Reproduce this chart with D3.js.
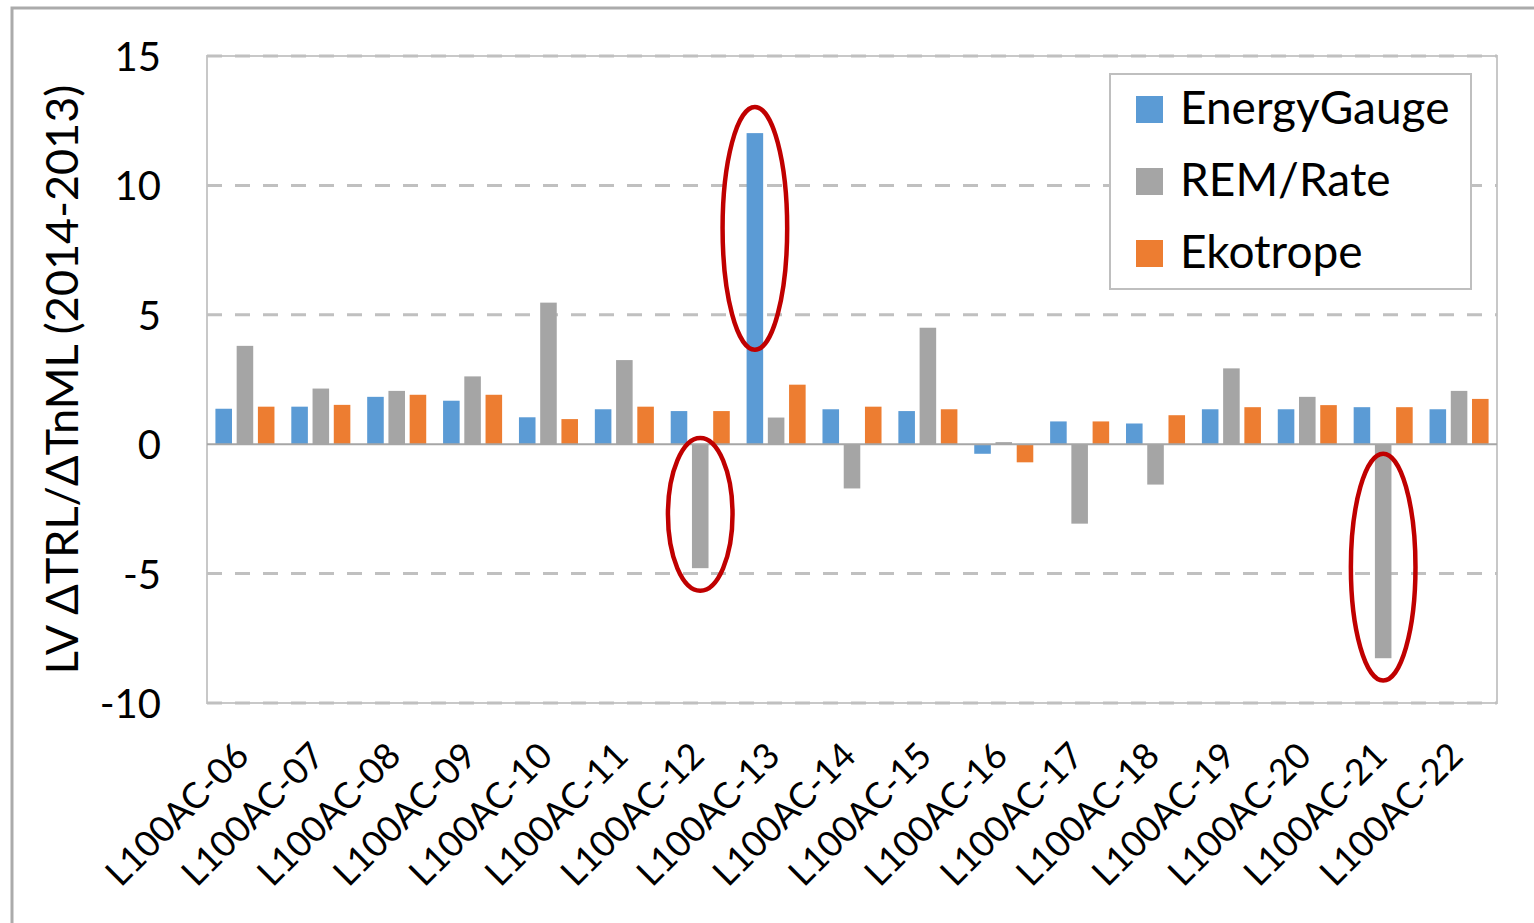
<!DOCTYPE html>
<html><head><meta charset="utf-8">
<script src="https://cdn.jsdelivr.net/npm/d3@7"></script>
<style>
html,body{margin:0;padding:0;background:#fff;}
svg{display:block;}
text{font-family:Lato, "Open Sans", sans-serif;fill:#000;}
</style></head>
<body>
<svg id="chart" width="1534" height="923"></svg>
<script>
const categories = ["L100AC-06","L100AC-07","L100AC-08","L100AC-09","L100AC-10","L100AC-11","L100AC-12","L100AC-13","L100AC-14","L100AC-15","L100AC-16","L100AC-17","L100AC-18","L100AC-19","L100AC-20","L100AC-21","L100AC-22"];
const seriesNames = ["EnergyGauge","REM/Rate","Ekotrope"];
const energyGauge = [1.37,1.45,1.83,1.68,1.04,1.35,1.28,12.02,1.35,1.28,-0.37,0.88,0.80,1.35,1.35,1.43,1.35];
const remRate     = [3.80,2.15,2.06,2.62,5.47,3.25,-4.79,1.03,-1.71,4.50,0.08,-3.07,-1.56,2.93,1.83,-8.27,2.06];
const ekotrope    = [1.45,1.52,1.91,1.91,0.97,1.45,1.28,2.30,1.45,1.35,-0.70,0.88,1.12,1.43,1.51,1.43,1.75];
const yTicks = [-10,-5,0,5,10,15];
const yTickLabels = ["-10","-5","0","5","10","15"];
const yTitle = "LV \u0394TRL/\u0394TnML (2014-2013)";
const colors = ["#5B9BD5","#A5A5A5","#ED7D31"];
// annotation ellipses: category, series, vertical centre and half-height in data units
const annCategory = ["L100AC-13","L100AC-12","L100AC-21"];
const annSeries   = ["EnergyGauge","REM/Rate","REM/Rate"];
const annMid      = [8.34,-2.71,-4.75];
const annHalf     = [4.69,2.95,4.38];

const values = [energyGauge, remRate, ekotrope];
const svg = d3.select("#chart");
const L = 207, R = 1497, T = 56, B = 703;

// outer chart border
svg.append("rect").attr("x",12).attr("y",8).attr("width",1540).attr("height",940)
  .attr("fill","#fff").attr("stroke","#ABABAB").attr("stroke-width",3);

const x0 = d3.scaleBand().domain(categories).range([L,R]).paddingInner(0.222).paddingOuter(0.111);
const x1 = d3.scaleBand().domain(seriesNames).range([0,x0.bandwidth()]).paddingInner(0.22);
const y = d3.scaleLinear().domain([-10,15]).range([B,T]);

// plot area border
svg.append("rect").attr("x",L).attr("y",T).attr("width",R-L).attr("height",B-T)
  .attr("fill","none").attr("stroke","#C8C8C8").attr("stroke-width",2);

// gridlines
svg.append("g").selectAll("line").data(yTicks.filter(d=>d!==0)).join("line")
  .attr("x1",L).attr("x2",R).attr("y1",d=>y(d)).attr("y2",d=>y(d))
  .attr("stroke","#C0C0C0").attr("stroke-width",3).attr("stroke-dasharray","15,13");

// y tick labels
const yAxis = d3.axisLeft(y).tickValues(yTicks).tickSize(0).tickPadding(0)
  .tickFormat((d,i)=>yTickLabels[i]);
const ya = svg.append("g").attr("transform",`translate(${L-46},0)`).call(yAxis);
ya.select(".domain").remove();
ya.selectAll("text").attr("font-size",40).attr("font-family","Lato").attr("fill","#000").attr("dy","0.36em");

// bars
const rows = categories.map((c,i)=>({c, vals: seriesNames.map((s,j)=>({s, j, v: values[j][i]}))}));
svg.append("g").selectAll("g").data(rows).join("g")
  .attr("transform",d=>`translate(${x0(d.c)},0)`)
  .selectAll("rect").data(d=>d.vals).join("rect")
  .attr("x",d=>x1(d.s)).attr("width",x1.bandwidth())
  .attr("y",d=>y(Math.max(0,d.v))).attr("height",d=>Math.abs(y(d.v)-y(0)))
  .attr("fill",d=>colors[d.j]);

// zero line
svg.append("line").attr("x1",L).attr("x2",R).attr("y1",y(0)).attr("y2",y(0))
  .attr("stroke","#A6A6A6").attr("stroke-width",2);

// x labels
svg.append("g").selectAll("text").data(categories).join("text")
  .attr("transform",d=>`translate(${x0(d)+x0.bandwidth()/2+6},758) rotate(-45)`)
  .attr("text-anchor","end").attr("font-size",36).text(d=>d);

// y title
svg.append("text").attr("transform",`translate(78,${(T+B)/2}) rotate(-90)`)
  .attr("text-anchor","middle").attr("font-size",45).text(yTitle);

// legend
const lg = svg.append("g");
lg.append("rect").attr("x",1110).attr("y",74).attr("width",361).attr("height",215)
  .attr("fill","#fff").attr("stroke","#BFBFBF").attr("stroke-width",2);
seriesNames.forEach((s,i)=>{
  lg.append("rect").attr("x",1136).attr("y",96+i*72).attr("width",27).attr("height",27).attr("fill",colors[i]);
  lg.append("text").attr("x",1180).attr("y",124+i*72).attr("font-size",46).text(s);
});

// annotation ellipses
svg.append("g").selectAll("ellipse").data(annCategory.map((c,i)=>({c,s:annSeries[i],m:annMid[i],h:annHalf[i]}))).join("ellipse")
  .attr("cx",d=>x0(d.c)+x1(d.s)+x1.bandwidth()/2)
  .attr("cy",d=>y(d.m))
  .attr("rx",x1.bandwidth()*1.95)
  .attr("ry",d=>y(d.m-d.h)-y(d.m))
  .attr("fill","none").attr("stroke","#C00000").attr("stroke-width",4.5);
</script>
</body></html>
